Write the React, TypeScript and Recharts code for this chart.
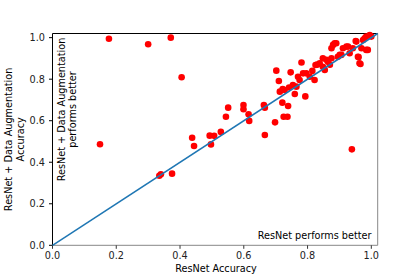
import { ScatterChart, Scatter, XAxis, YAxis, ReferenceLine } from "recharts";

// accuracy of plain ResNet per class (x) and with data augmentation (y)
const resnetAcc = [
  0.149, 0.177, 0.3, 0.371, 0.405, 0.335, 0.34, 0.375, 0.438, 0.444, 0.493, 0.507,
  0.497, 0.528, 0.544, 0.551, 0.599, 0.599, 0.615, 0.617, 0.663, 0.666, 0.666, 0.698,
  0.725, 0.737, 0.721, 0.739, 0.793, 0.76, 0.702, 0.71, 0.747, 0.781, 0.713, 0.722,
  0.728, 0.754, 0.765, 0.742, 0.77, 0.786, 0.796, 0.807, 0.822, 0.775, 0.825, 0.838,
  0.848, 0.848, 0.864, 0.875, 0.854, 0.859, 0.88, 0.89, 0.901, 0.911, 0.922, 0.932,
  0.942, 0.953, 0.958, 0.963, 0.969, 0.979, 0.984, 0.989, 0.995, 1.0, 0.875, 0.885,
  0.906, 0.927, 0.951, 0.96, 0.966, 0.974, 0.984, 0.939, 0.895, 0.87, 0.815, 0.83,
];
const augmentedAcc = [
  0.487, 0.995, 0.968, 1.0, 0.809, 0.335, 0.342, 0.345, 0.518, 0.478, 0.528, 0.527,
  0.486, 0.546, 0.619, 0.663, 0.676, 0.655, 0.631, 0.599, 0.676, 0.663, 0.531, 0.592,
  0.619, 0.619, 0.687, 0.671, 0.717, 0.729, 0.841, 0.791, 0.833, 0.88, 0.74, 0.752,
  0.748, 0.772, 0.764, 0.76, 0.812, 0.828, 0.828, 0.812, 0.796, 0.796, 0.868, 0.877,
  0.901, 0.86, 0.884, 0.901, 0.844, 0.893, 0.965, 0.973, 0.917, 0.949, 0.957, 0.925,
  0.949, 0.981, 0.908, 0.877, 0.949, 0.997, 1.005, 0.941, 1.013, 1.005, 0.949, 0.973,
  0.917, 0.957, 0.984, 0.906, 0.873, 0.989, 0.941, 0.462, 0.908, 0.87, 0.84, 0.87,
];
const axisTicks = [0, 0.2, 0.4, 0.6, 0.8, 1.0];
const axisMax = 1.02;
const diagonal = [0, axisMax];

const points = resnetAcc.map((x, i) => ({ x, y: augmentedAcc[i] }));
const diagonalPoints = diagonal.map((v) => ({ x: v, y: v }));

const font = "DejaVu Sans";
const fs = 9.7;
const fmt = (v: number) => v.toFixed(1);

export default function App() {
  return (
    <div style={{ position: "absolute", left: 0, top: 0, width: 420, height: 280, background: "#fff" }}>
      <ScatterChart width={420} height={280} margin={{ top: 33.5, right: 42.3, bottom: 0, left: 0 }}>
        <XAxis
          type="number"
          dataKey="x"
          domain={[0, axisMax]}
          ticks={axisTicks}
          tickFormatter={fmt}
          height={34.7}
          stroke="#888"
          tickLine={{ stroke: "#333" }}
          tickSize={3.5}
          tickMargin={3.3}
          tick={{ fill: "#222", fontSize: fs, fontFamily: font }}
        />
        <YAxis
          type="number"
          dataKey="y"
          domain={[0, axisMax]}
          ticks={axisTicks}
          tickFormatter={fmt}
          width={52.5}
          stroke="#000"
          tickSize={3.5}
          tickMargin={4}
          tick={{ fill: "#222", fontSize: fs, fontFamily: font }}
        />
        <ReferenceLine y={axisMax} stroke="#000" />
        <ReferenceLine x={axisMax} stroke="#888" />
        <Scatter
          data={points}
          isAnimationActive={false}
          shape={(p: any) => <circle cx={p.cx} cy={p.cy} r={3.3} fill="#ff0000" />}
        />
        <Scatter
          data={diagonalPoints}
          isAnimationActive={false}
          line={{ stroke: "#1f77b4", strokeWidth: 1.5 }}
          shape={() => <g />}
        />
      </ScatterChart>
      <svg
        width={420}
        height={280}
        style={{ position: "absolute", left: 0, top: 0, pointerEvents: "none" }}
        fontFamily={font}
        fontSize={fs}
        fill="#000"
      >
        <text transform="translate(12.3,139.4) rotate(-90)" textAnchor="middle">
          ResNet + Data Augmentation
        </text>
        <text transform="translate(24.3,139.4) rotate(-90)" textAnchor="middle">
          Accuracy
        </text>
        <text transform="translate(64.7,109.5) rotate(-90)" textAnchor="middle">
          ResNet + Data Augmentation
        </text>
        <text transform="translate(75.5,109.5) rotate(-90)" textAnchor="middle">
          performs better
        </text>
        <text x={371.5} y={239} textAnchor="end">
          ResNet performs better
        </text>
        <text x={216} y={272} textAnchor="middle">
          ResNet Accuracy
        </text>
      </svg>
    </div>
  );
}
